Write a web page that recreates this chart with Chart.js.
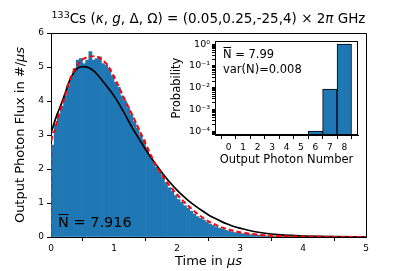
<!DOCTYPE html>
<html><head><meta charset="utf-8">
<script src="https://cdn.jsdelivr.net/npm/chart.js@4"></script>
<style>
html,body{margin:0;padding:0;background:#fff;}
#wrap{position:relative;width:407px;height:271px;overflow:hidden;}
canvas{position:absolute;left:0;top:0;}
#inset{pointer-events:none;}
</style></head><body>
<div id="wrap"><canvas id="main" width="407" height="271"></canvas><canvas id="inset" width="407" height="271"></canvas></div>
<script>
// ---------- data ----------
const binStart = 0, binWidth = 0.05;
const histValues = [
 2.7,3.3,3.6,3.85,4.15,4.45,4.7,4.95,5.2,5.25,
 5.1,5.2,5.45,5.2,5.25,5.3,5.1,5.05,4.95,4.75,
 4.55,4.4,4.15,4.0,3.8,3.6,3.4,3.2,3.0,2.85,
 2.6,2.4,2.22,2.05,1.9,1.75,1.6,1.45,1.35,1.22,
 1.1,1.02,0.92,0.85,0.76,0.68,0.6,0.55,0.5,0.44,
 0.38,0.34,0.3,0.26,0.23,0.2,0.17,0.15,0.13,0.11,
 0.1,0.09,0.08,0.07,0.06,0.055,0.05,0.04,0.035,0.03,
 0.028,0.025,0.02,0.018,0.015,0.013,0.012,0.01,0.009,0.008,
 0.007,0.006,0.005,0.005,0.004,0.004,0.003,0.003,0.003,0.002,
 0.002,0.002,0.002,0.001,0.001,0.001,0.001,0.001,0.001,0.001
];
const redT = [0,0.003,0.05,0.1,0.15,0.2,0.3,0.4,0.5,0.6,0.7,0.8,0.9,1.0,1.1,1.2,1.3,1.4,1.5,1.6,1.7,1.8,1.9,2.0,2.1,2.2,2.3,2.4,2.5,2.6,2.7,2.8,2.9,3.0,3.2,3.4,3.6,3.8,4.0,4.5,5.0];
const redV = [0,2.7,3.1,3.45,3.75,4.02,4.62,5.0,5.22,5.3,5.32,5.22,5.05,4.72,4.32,3.93,3.55,3.15,2.75,2.35,2.0,1.72,1.47,1.25,1.05,0.88,0.72,0.58,0.46,0.37,0.29,0.23,0.18,0.14,0.085,0.05,0.028,0.016,0.009,0.002,0.0005];
const blackT = [0,0.05,0.1,0.15,0.2,0.3,0.4,0.5,0.6,0.7,0.8,0.9,1.0,1.1,1.2,1.3,1.4,1.5,1.6,1.7,1.8,1.9,2.0,2.1,2.2,2.3,2.4,2.5,2.6,2.7,2.8,2.9,3.0,3.2,3.4,3.6,3.8,4.0,4.5,5.0];
const blackV = [3.05,3.35,3.62,3.85,4.1,4.62,4.93,5.01,4.98,4.85,4.63,4.4,4.15,3.85,3.52,3.18,2.88,2.58,2.3,2.05,1.8,1.58,1.38,1.2,1.04,0.9,0.77,0.65,0.55,0.46,0.38,0.31,0.26,0.17,0.11,0.07,0.045,0.03,0.01,0.003];
const timeTicks = [0,1,2,3,4,5];
const fluxTicks = [0,1,2,3,4,5,6];
const photonNumbers = [0,1,2,3,4,5,6,7,8];
const photonProb = [null,null,null,null,null,null,1.0e-4,0.0085,0.99];
const probDecades = [1,0.1,0.01,0.001,0.0001];
const probLabels = ['10⁰','10⁻¹','10⁻²','10⁻³','10⁻⁴'];
const meanMain = '7.916', meanInset = '7.99', varInset = '0.008';

// ---------- helpers ----------
const FAM = '"DejaVu Sans"';
Chart.defaults.font.family = 'DejaVu Sans';
Chart.defaults.color = '#000';

function richWidth(ctx, segs, size){
  let w = 0;
  for (const s of segs){ ctx.font = (s.it?'italic ':'') + (s.size||size) + 'px ' + FAM; w += ctx.measureText(s.t).width; }
  return w;
}
function drawRich(ctx, segs, size, cx, y){
  const w = richWidth(ctx, segs, size);
  let x = cx - w/2;
  ctx.textAlign = 'left'; ctx.textBaseline = 'alphabetic'; ctx.fillStyle = '#000';
  for (const s of segs){
    ctx.font = (s.it?'italic ':'') + (s.size||size) + 'px ' + FAM;
    ctx.fillText(s.t, x, y + (s.dy||0));
    x += ctx.measureText(s.t).width;
  }
}
function drawNbar(ctx, x, y, size, rest){
  ctx.font = size + 'px ' + FAM; ctx.textAlign='left'; ctx.textBaseline='alphabetic'; ctx.fillStyle='#000';
  const wN = ctx.measureText('N').width;
  ctx.fillText('N', x, y);
  ctx.fillRect(x + 0.5, Math.round(y - size*0.92), wN - 1, Math.max(1, size*0.07));
  ctx.fillText(rest, x + wN, y);
}

const mainText = {
  id: 'mainText',
  afterDraw(chart){
    const ctx = chart.ctx, a = chart.chartArea;
    ctx.save();
    ctx.strokeStyle = '#000'; ctx.lineWidth = 1;
    ctx.beginPath();
    ctx.moveTo(Math.round(a.left)-0.5, Math.round(a.top)+0.5); ctx.lineTo(Math.round(a.right)+0.5, Math.round(a.top)+0.5);
    ctx.lineTo(Math.round(a.right)+0.5, Math.round(a.bottom));
    ctx.stroke();
    const cx = (a.left + a.right)/2;
    drawRich(ctx, [{t:'133',size:9.5,dy:-5},{t:'Cs ('},{t:'κ',it:1},{t:', '},{t:'g',it:1},{t:', Δ, Ω) = (0.05,0.25,-25,4) × 2'},{t:'π',it:1},{t:' GHz'}], 13.5, cx, 23);
    drawRich(ctx, [{t:'Time in '},{t:'μs',it:1}], 13, cx, 265);
    ctx.save(); ctx.translate(24, (a.top+a.bottom)/2); ctx.rotate(-Math.PI/2);
    drawRich(ctx, [{t:'Output Photon Flux in #/'},{t:'μs',it:1}], 13, 0, 0);
    ctx.restore();
    drawNbar(ctx, 58, 227, 14.5, ' = ' + meanMain);
    ctx.restore();
  }
};

const histData = histValues.map((v,i)=>({x: binStart + binWidth*(i+0.5), y: v}));
new Chart(document.getElementById('main'), {
  type: 'bar',
  data: { datasets: [
    { type:'line', data: redT.map((t,i)=>({x:t,y:redV[i]})), borderColor:'#ff0000', borderWidth:2, borderDash:[5,3], pointRadius:0, cubicInterpolationMode:'monotone', order:0 },
    { type:'line', data: blackT.map((t,i)=>({x:t,y:blackV[i]})), borderColor:'#000000', borderWidth:1.7, pointRadius:0, cubicInterpolationMode:'monotone', order:1 },
    { type:'bar', data: histData, backgroundColor:'#1f77b4', borderWidth:0, barPercentage:1, categoryPercentage:1, order:2 }
  ]},
  options: {
    responsive:false, animation:false, devicePixelRatio:1,
    layout:{padding:{left:0, top:33, right:41, bottom:0}},
    plugins:{legend:{display:false}, tooltip:{enabled:false}, title:{display:false}},
    scales:{
      x:{ type:'linear', min:0, max:5, offset:false,
          afterBuildTicks:s=>{ s.ticks = timeTicks.map(v=>({value:v})); },
          ticks:{font:{size:9}, padding:2, maxRotation:0, autoSkip:false, color:'#000'},
          grid:{display:true, drawOnChartArea:false, drawTicks:true, tickLength:4, color:'#000'},
          border:{display:true, color:'#000', width:1},
          afterFit:s=>{ s.height = 34; } },
      y:{ type:'linear', min:0, max:6,
          afterBuildTicks:s=>{ s.ticks = fluxTicks.map(v=>({value:v})); },
          ticks:{font:{size:9}, padding:3, autoSkip:false, color:'#000'},
          grid:{display:true, drawOnChartArea:false, drawTicks:true, tickLength:4, color:'#000'},
          border:{display:true, color:'#000', width:1},
          afterFit:s=>{ s.width = 51; } }
    }
  },
  plugins:[mainText]
});

// ---------- inset ----------
const insetPlug = {
  id:'insetPlug',
  beforeDraw(chart){
    const ctx = chart.ctx, a = chart.chartArea;
    ctx.save(); ctx.fillStyle = '#fff'; ctx.fillRect(a.left, a.top, a.right-a.left, a.bottom-a.top); ctx.restore();
  },
  afterDraw(chart){
    const ctx = chart.ctx, a = chart.chartArea;
    ctx.save();
    ctx.strokeStyle = '#000'; ctx.lineWidth = 1;
    ctx.strokeRect(Math.round(a.left)+0.5, Math.round(a.top)+0.5, Math.round(a.right-a.left)-1, Math.round(a.bottom-a.top)-1);
    drawNbar(ctx, 223, 58, 11.5, ' = ' + meanInset);
    ctx.font = '11.5px ' + FAM; ctx.fillStyle='#000'; ctx.textAlign='left';
    ctx.fillText('var(N)=' + varInset, 223, 73);
    drawRich(ctx, [{t:'Output Photon Number'}], 11.5, (a.left+a.right)/2, 163);
    ctx.save(); ctx.translate(180, (a.top+a.bottom)/2); ctx.rotate(-Math.PI/2);
    drawRich(ctx, [{t:'Probability'}], 11.5, 0, 0);
    ctx.restore();
    ctx.restore();
  }
};

new Chart(document.getElementById('inset'), {
  type:'bar',
  data:{ datasets:[{ data: photonNumbers.map((n,i)=>({x:n, y:photonProb[i]})), backgroundColor:'#1f77b4', borderColor:'#000', borderWidth:1, barPercentage:1, categoryPercentage:1, borderSkipped:false }]},
  options:{
    responsive:false, animation:false, devicePixelRatio:1,
    layout:{padding:{left:0, top:41, right:49, bottom:0}},
    plugins:{legend:{display:false}, tooltip:{enabled:false}},
    scales:{
      x:{ type:'linear', min:-0.95, max:8.95, offset:false,
          afterBuildTicks:s=>{ s.ticks = photonNumbers.map(v=>({value:v})); },
          ticks:{font:{size:9}, padding:3, maxRotation:0, autoSkip:false, color:'#000'},
          grid:{display:true, drawOnChartArea:false, drawTicks:true, tickLength:4, color:'#000'},
          border:{display:true, color:'#000', width:1},
          afterFit:s=>{ s.height = 136; } },
      y:{ type:'logarithmic', min:6.6e-5, max:1.38,
          afterBuildTicks:s=>{
            const t = [];
            for (let e=-5; e<=0; e++) for (let m=1; m<=9; m++){ const v = m*Math.pow(10,e); if (v>=s.min && v<=s.max) t.push({value:v}); }
            s.ticks = t;
          },
          ticks:{font:{size:9.5}, padding:2, autoSkip:false, color:'#000',
                 callback:(v)=>{ const k = probDecades.findIndex(d=>Math.abs(d-v)/d<1e-6); return k>=0 ? probLabels[k] : ''; } },
          grid:{display:true, drawOnChartArea:false, drawTicks:true, tickLength:3, color:'#000'},
          border:{display:true, color:'#000', width:1},
          afterFit:s=>{ s.width = 215; } }
    }
  },
  plugins:[insetPlug]
});
</script>
</body></html>
